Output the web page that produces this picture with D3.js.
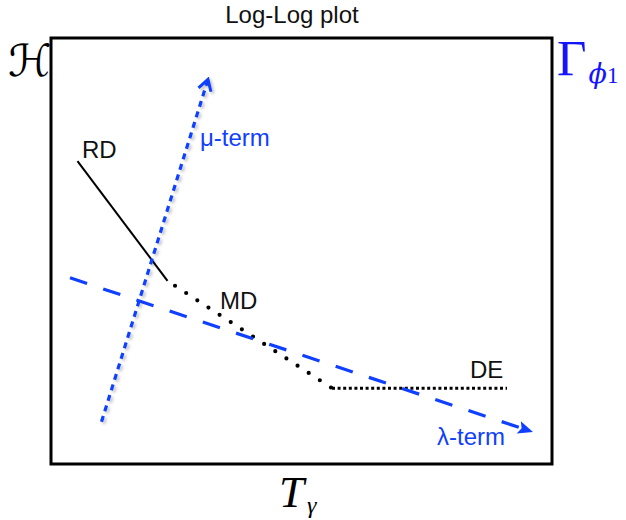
<!DOCTYPE html>
<html>
<head>
<meta charset="utf-8">
<script src="https://cdn.jsdelivr.net/npm/d3@7"></script>
<style>
  html, body { margin: 0; padding: 0; background: #fff; }
  svg { display: block; }
</style>
</head>
<body>
<svg id="chart" width="626" height="520"></svg>
<script>
// Schematic log-log data (abstract units: log T on x, log H on y)
const title = "Log-Log plot";
const rdSegment = [[0.53, 7.11], [2.33, 4.30]];
const mdSegment = [[2.33, 4.30], [5.62, 1.78]];
const deSegment = [[5.62, 1.78], [9.12, 1.78]];
const muTerm = [[1.01, 0.99], [3.14, 9.03]];
const lambdaTerm = [[0.38, 4.37], [9.64, 0.75]];
const phaseLabels = ["RD", "MD", "DE"];
const phaseLabelPos = [[0.62, 7.18], [3.38, 3.64], [8.38, 2.02]];
const termLabels = ["μ-term", "λ-term"];
const termLabelPos = [[2.98, 7.46], [7.72, 0.45]];

const svg = d3.select("#chart");
const frame = { left: 51, right: 552, top: 38, bottom: 464 };
const x = d3.scaleLinear().domain([0, 10]).range([frame.left, frame.left + 500]);
const y = d3.scaleLinear().domain([0, 10]).range([frame.bottom, frame.bottom - 426]);
const line = d3.line().x(d => x(d[0])).y(d => y(d[1]));

const blue = "#1040ff";
const defs = svg.append("defs");
defs.append("filter").attr("id", "shadow")
  .attr("x", "-20%").attr("y", "-20%").attr("width", "140%").attr("height", "140%")
  .append("feDropShadow")
  .attr("dx", 2).attr("dy", 2).attr("stdDeviation", 1.5)
  .attr("flood-color", "#000").attr("flood-opacity", 0.25);
defs.append("marker").attr("id", "chev")
  .attr("viewBox", "-12 -8 14 16").attr("refX", 0).attr("refY", 0)
  .attr("markerUnits", "userSpaceOnUse")
  .attr("markerWidth", 14).attr("markerHeight", 16).attr("orient", "auto")
  .append("path").attr("d", "M-11,-6.5 L0,0 L-11,6.5")
  .attr("fill", "none").attr("stroke", blue).attr("stroke-width", 3)
  .attr("stroke-linejoin", "miter");
defs.append("marker").attr("id", "tri")
  .attr("viewBox", "-16 -8 17 16").attr("refX", 0).attr("refY", 0)
  .attr("markerUnits", "userSpaceOnUse")
  .attr("markerWidth", 17).attr("markerHeight", 16).attr("orient", "auto")
  .append("path").attr("d", "M-15,-6.5 L0,0 L-15,6.5 L-12,0 Z")
  .attr("fill", blue);

// Title
svg.append("text").attr("x", 292).attr("y", 23)
  .attr("text-anchor", "middle")
  .attr("font-family", "Liberation Sans, Arial, sans-serif")
  .attr("font-size", 24).attr("fill", "#111").text(title);

// Frame
svg.append("rect")
  .attr("x", frame.left).attr("y", frame.top)
  .attr("width", frame.right - frame.left).attr("height", frame.bottom - frame.top)
  .attr("fill", "none").attr("stroke", "#000").attr("stroke-width", 3);

// Phase lines
svg.append("path").attr("d", line(rdSegment))
  .attr("fill", "none").attr("stroke", "#000").attr("stroke-width", 2);
svg.append("path").attr("d", line(mdSegment))
  .attr("fill", "none").attr("stroke", "#000").attr("stroke-width", 4.2)
  .attr("stroke-linecap", "round").attr("stroke-dasharray", "0,13.3")
  .attr("stroke-dashoffset", -9);
svg.append("path").attr("d", line(deSegment))
  .attr("fill", "none").attr("stroke", "#000").attr("stroke-width", 3)
  .attr("stroke-dasharray", "3,2.6");

// Blue terms
svg.append("path").attr("d", line(lambdaTerm))
  .attr("fill", "none").attr("stroke", blue).attr("stroke-width", 3.2)
  .attr("stroke-dasharray", "18,17").attr("marker-end", "url(#tri)");
svg.append("path").attr("d", line(muTerm))
  .attr("fill", "none").attr("stroke", blue).attr("stroke-width", 3.2)
  .attr("stroke-dasharray", "6,5").attr("marker-end", "url(#chev)")
  .attr("filter", "url(#shadow)");

// Labels
svg.selectAll("text.phase").data(phaseLabels).enter().append("text")
  .attr("class", "phase")
  .attr("x", (d, i) => x(phaseLabelPos[i][0]))
  .attr("y", (d, i) => y(phaseLabelPos[i][1]))
  .attr("font-family", "Liberation Sans, Arial, sans-serif")
  .attr("font-size", 24).attr("fill", "#111").text(d => d);
svg.selectAll("text.term").data(termLabels).enter().append("text")
  .attr("class", "term")
  .attr("x", (d, i) => x(termLabelPos[i][0]))
  .attr("y", (d, i) => y(termLabelPos[i][1]))
  .attr("font-family", "Liberation Sans, Arial, sans-serif")
  .attr("font-size", 24).attr("fill", blue).text(d => d);

// Axis labels
svg.append("text").attr("x", 8).attr("y", 76)
  .attr("font-family", "DejaVu Sans, sans-serif").attr("font-size", 44)
  .attr("font-style", "italic")
  .attr("fill", "#000").text("ℋ");

const g = svg.append("text").attr("x", 557).attr("y", 75)
  .attr("fill", "#1414ff");
g.append("tspan").attr("font-family", "Liberation Serif, serif")
  .attr("font-size", 51).text("Γ");
g.append("tspan").attr("font-family", "DejaVu Serif, serif").attr("font-style", "italic")
  .attr("font-size", 27).attr("dx", 2).attr("dy", 8).text("ϕ");
g.append("tspan").attr("font-family", "Liberation Serif, serif")
  .attr("font-size", 23).attr("dx", 0).text("1");

const t = svg.append("text").attr("x", 279).attr("y", 507).attr("fill", "#000");
t.append("tspan").attr("font-family", "Liberation Serif, serif").attr("font-style", "italic")
  .attr("font-size", 45).text("T");
t.append("tspan").attr("font-family", "Liberation Serif, serif").attr("font-style", "italic")
  .attr("font-size", 24).attr("dx", 3).attr("dy", 6).text("γ");
</script>
</body>
</html>
